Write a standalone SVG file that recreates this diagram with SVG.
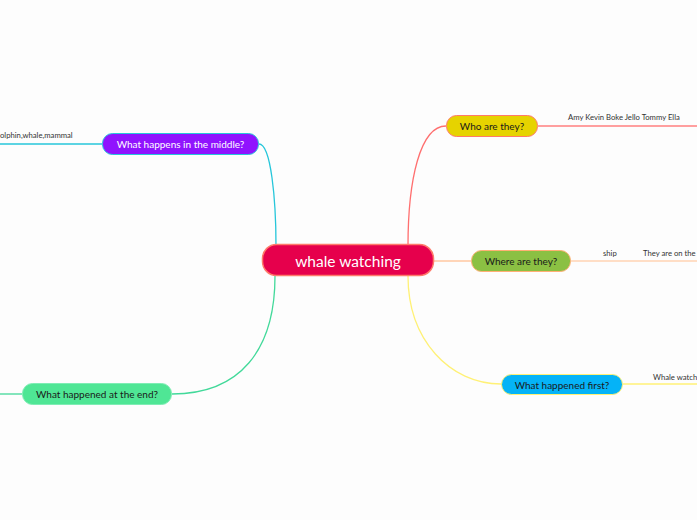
<svg xmlns="http://www.w3.org/2000/svg" width="697" height="520" viewBox="0 0 697 520">
<style>
.bg{fill:#fdfdfd}
.c{fill:none;stroke-width:1.3}
.t{font-family:Lato,"Open Sans","DejaVu Sans",sans-serif;text-anchor:middle;dominant-baseline:central}
.nt{font-size:10px}
.s{font-family:Lato,"Open Sans","DejaVu Sans",sans-serif;font-size:7.7px;fill:#333}
</style>
<rect class="bg" width="697" height="520"/>
<g id="connectors">
<path class="c" stroke="#26c6da" d="M259,144 C271,144 276,200 276,246"/>
<path class="c" stroke="#26c6da" d="M0,144 L102,144"/>
<path class="c" stroke="#ff6f6f" d="M408,246 C408,180 420,126 446,126"/>
<path class="c" stroke="#ff7f7f" d="M538,126 L697,126"/>
<path class="c" stroke="#ffc7a0" d="M434,261 L471,261"/>
<path class="c" stroke="#ffd3b3" d="M571,261 L697,261"/>
<path class="c" stroke="#fff176" d="M408,276 C408,340 450,384 501,384"/>
<path class="c" stroke="#fff176" d="M623,384 L697,384"/>
<path class="c" stroke="#42d99a" d="M275,276 C275,350 240,394 172,394"/>
<path class="c" stroke="#42d99a" d="M0,394 L22,394"/>
</g>
<g id="central">
<rect x="262.5" y="244.5" width="171" height="31" rx="14" fill="#e6004c" stroke="#ff7a6a" stroke-width="1.5"/>
<text class="t" x="348" y="261" font-size="15.5" fill="#ffffff">whale watching</text>
</g>
<g id="middle">
<rect x="102.5" y="133.5" width="156" height="21" rx="10" fill="#9013fe" stroke="#26c6da" stroke-width="1"/>
<text class="t nt" x="180.5" y="144" fill="#ffffff">What happens in the middle?</text>
<text class="s" x="0" y="138">olphin,whale,mammal</text>
</g>
<g id="who">
<rect x="446.5" y="115.5" width="91" height="21" rx="10" fill="#e6d300" stroke="#ff7a6a" stroke-width="1"/>
<text class="t nt" x="492" y="126" fill="#1a1a1a">Who are they?</text>
<text class="s" x="568" y="120">Amy Kevin Boke Jello Tommy Ella</text>
</g>
<g id="where">
<rect x="471.5" y="250.5" width="99" height="21" rx="10" fill="#8bc043" stroke="#ffb074" stroke-width="1"/>
<text class="t nt" x="521" y="261" fill="#1a1a1a">Where are they?</text>
<text class="s" x="603" y="256">ship</text>
<text class="s" x="643" y="256">They are on the</text>
</g>
<g id="first">
<rect x="501.5" y="374.5" width="121" height="20" rx="10" fill="#05b3f7" stroke="#fff176" stroke-width="1"/>
<text class="t nt" x="562" y="384.5" fill="#1a1a1a">What happened first?</text>
<text class="s" x="653" y="380">Whale watching</text>
</g>
<g id="end">
<rect x="22.5" y="383.5" width="149" height="21" rx="10" fill="#4fe695" stroke="#7eedb4" stroke-width="1"/>
<text class="t nt" x="97" y="394" fill="#1a1a1a">What happened at the end?</text>
</g>
</svg>
